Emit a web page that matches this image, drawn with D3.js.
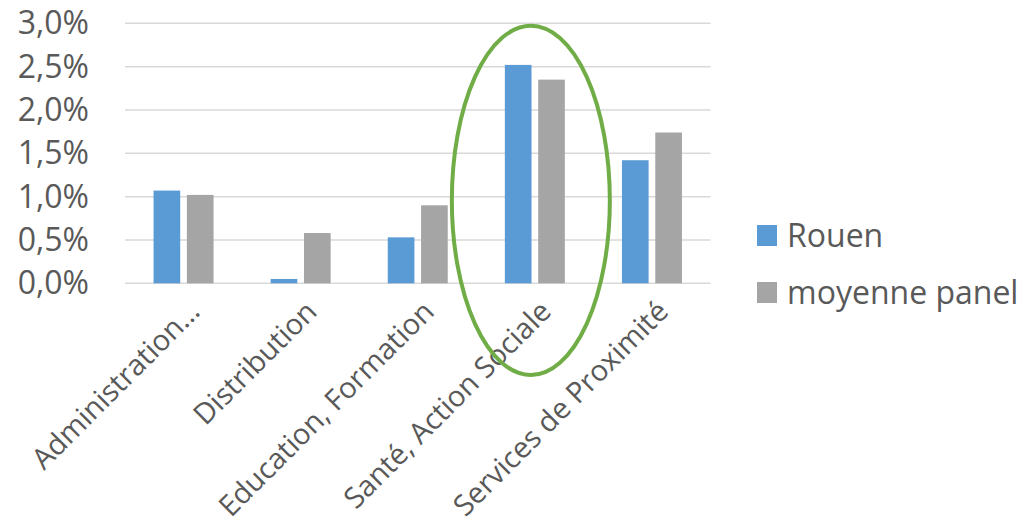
<!DOCTYPE html>
<html>
<head>
<meta charset="utf-8">
<script src="https://cdn.jsdelivr.net/npm/d3@7.9.0/dist/d3.min.js"></script>
<style>
  body { margin: 0; background: #fff; }
  svg { display: block; font-family: 'Open Sans', sans-serif; }
</style>
</head>
<body>
<svg id="chart" width="1026" height="525"></svg>
<script>
const categories = ['Administration…', 'Distribution', 'Education, Formation', 'Santé, Action Sociale', 'Services de Proximité'];
const seriesNames = ['Rouen', 'moyenne panel'];
const rouen = [0.0107, 0.0005, 0.0053, 0.0252, 0.0142];
const panel = [0.0102, 0.0058, 0.0090, 0.0235, 0.0174];
const yTicks = [0, 0.005, 0.01, 0.015, 0.02, 0.025, 0.03];
const colors = ['#5B9BD5', '#A5A5A5'];
const highlighted = 'Santé, Action Sociale';

const svg = d3.select('#chart');

const x0 = d3.scaleBand().domain(categories).range([125, 710.5]);
const bw = x0.bandwidth();
const x1 = d3.scaleBand().domain(seriesNames)
  .range([(bw - 60) / 2, (bw + 60) / 2])
  .paddingInner(0.2);
const y = d3.scaleLinear().domain([0, 0.03]).range([283.3, 23.3]);

const fmt = (d) => d3.format('.1f')(d * 100).replace('.', ',') + '%';

// gridlines
svg.append('g')
  .selectAll('line')
  .data(yTicks)
  .join('line')
  .attr('x1', 125)
  .attr('x2', 710.5)
  .attr('y1', (d) => y(d))
  .attr('y2', (d) => y(d))
  .attr('stroke', '#D9D9D9')
  .attr('stroke-width', 1.5);

// y axis labels
const yAxis = svg.append('g')
  .attr('transform', 'translate(89,0)')
  .call(d3.axisLeft(y).tickValues(yTicks).tickFormat(fmt).tickSize(0).tickPadding(0));
yAxis.select('.domain').remove();
yAxis.selectAll('text')
  .attr('font-family', "'Open Sans', sans-serif")
  .attr('font-size', 32)
  .attr('fill', '#595959')
  .attr('dy', '0.33em');

// bars
const rows = categories.map((c, i) => ({ cat: c, values: [rouen[i], panel[i]] }));
const groups = svg.append('g')
  .selectAll('g')
  .data(rows)
  .join('g')
  .attr('transform', (d) => `translate(${x0(d.cat)},0)`);

groups.selectAll('rect')
  .data((d) => d.values.map((v, k) => ({ name: seriesNames[k], value: v, k })))
  .join('rect')
  .attr('x', (d) => x1(d.name))
  .attr('width', x1.bandwidth())
  .attr('y', (d) => y(d.value))
  .attr('height', (d) => y(0) - y(d.value))
  .attr('fill', (d) => colors[d.k]);

// x axis labels, rotated
const xAxis = svg.append('g')
  .attr('transform', `translate(0,${y(0)})`)
  .call(d3.axisBottom(x0).tickSize(0).tickPadding(0));
xAxis.select('.domain').remove();
xAxis.selectAll('text')
  .attr('font-family', "'Open Sans', sans-serif")
  .attr('font-size', 29)
  .attr('fill', '#595959')
  .attr('text-anchor', 'end')
  .attr('dy', null)
  .attr('y', 0)
  .attr('transform', 'translate(18,30) rotate(-45)');

// legend
const legend = svg.append('g')
  .selectAll('g')
  .data(seriesNames)
  .join('g')
  .attr('transform', (d, i) => `translate(757,${225 + i * 57})`);
legend.append('rect')
  .attr('width', 20)
  .attr('height', 21)
  .attr('fill', (d, i) => colors[i]);
legend.append('text')
  .attr('x', 30)
  .attr('y', 22)
  .attr('font-size', 32)
  .attr('fill', '#595959')
  .text((d) => d);

// highlight ellipse around the Santé group
svg.append('ellipse')
  .attr('cx', x0(highlighted) + bw / 2 - 4)
  .attr('cy', (y(0.03) + 2.5 + 375) / 2)
  .attr('rx', 79)
  .attr('ry', (375 - y(0.03) - 2.5) / 2)
  .attr('fill', 'none')
  .attr('stroke', '#70AD47')
  .attr('stroke-width', 4);
</script>
</body>
</html>
